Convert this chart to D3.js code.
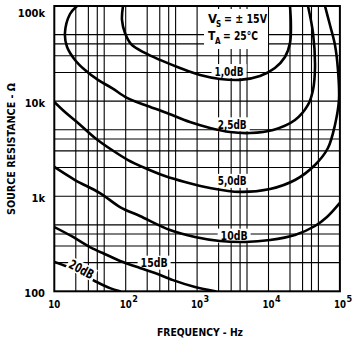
<!DOCTYPE html>
<html><head><meta charset="utf-8">
<script src="https://cdn.jsdelivr.net/npm/d3@7"></script>
<style>
html,body{margin:0;padding:0;background:#fff;}
svg{display:block;}
text{font-family:"Liberation Sans Narrow","DejaVu Sans Condensed","Arial Narrow",sans-serif;font-weight:bold;fill:#000;}
</style></head><body>
<svg id="c" width="354" height="341"></svg>
<script>
// ---- data ----
const xDomain = [10, 1e5];
const yDomain = [100, 1e5];
const xTickValues = [10, 100, 1000, 10000, 100000];
const xTickExp = ["", "2", "3", "4", "5"];
const yTickValues = [100, 1000, 10000, 100000];
const yTickLabels = ["100", "1k", "10k", "100k"];
const gridMultipliers = [2, 3, 4, 5];

const freq_1dB = [91.6, 88.7, 97.7, 119, 186, 302, 575, 1100, 2090, 3990, 7600, 12300, 17000, 20000, 20600, 20000];
const res_1dB  = [100000, 71300, 52000, 39800, 32100, 27100, 22300, 18800, 17100, 16700, 18400, 22300, 29100, 40800, 63100, 100000];

const freq_2p5dB = [20.8, 16.6, 14.1, 15.1, 19.5, 26.9, 40.9, 64.3, 104, 186, 378, 794, 1520, 2890, 5510, 11600, 23500, 35700, 42000, 44800, 42000, 35700];
const res_2p5dB  = [100000, 82400, 52000, 37100, 27100, 21200, 16700, 13700, 10800, 9110, 7500, 6030, 5220, 4730, 4620, 4970, 6320, 9110, 13100, 22900, 52000, 100000];

const freq_5dB = [10, 14.1, 21.5, 37.2, 64.3, 108, 186, 355, 676, 1520, 3990, 10500, 23500, 44800, 68000, 85300, 97000, 94000, 85300, 72600, 61800];
const res_5dB  = [9800, 7680, 5890, 4100, 3060, 2400, 1980, 1630, 1410, 1220, 1110, 1190, 1480, 2130, 3210, 5610, 10300, 21200, 38900, 63100, 100000];

const freq_10dB = [10, 19.5, 43.6, 83.2, 158, 417, 935, 2090, 4690, 10500, 23500, 44800, 65900, 100000];
const res_10dB  = [2030, 1480, 1080, 769, 619, 441, 373, 338, 330, 346, 391, 486, 604, 850];

const freq_15dB = [10, 18.3, 31.6, 54.7, 91.6, 158, 257, 459, 935, 1800];
const res_15dB  = [474, 373, 292, 241, 203, 176, 156, 131, 111, 100];

const freq_20dB = [10, 16.6, 39.6, 60.3, 83];
const res_20dB  = [203, 176, 125, 108, 100];

const labelNames = ["1,0dB", "2,5dB", "5,0dB", "10dB", "15dB"];
const labelFreq  = [2800, 3100, 3100, 3300, 250];
const labelRes   = [20700, 5700, 1450, 385, 200];
const labelWidth = [29, 29, 29, 27, 27];

// ---- chart ----
const svg = d3.select("#c");
const L = 54.3, R = 339.9, T = 6, B = 291.3;
const x = d3.scaleLog().domain(xDomain).range([L, R]);
const y = d3.scaleLog().domain(yDomain).range([B, T]);

// grid
const g = svg.append("g");
const xGrid = [];
for (let d = 10; d < 1e5; d *= 10) gridMultipliers.forEach(m => xGrid.push(d * m));
const yGrid = [];
for (let d = 100; d < 1e5; d *= 10) gridMultipliers.forEach(m => yGrid.push(d * m));
xTickValues.slice(1, -1).forEach(v => xGrid.push(v));
yTickValues.slice(1, -1).forEach(v => yGrid.push(v));
g.selectAll("line.vx").data(xGrid).join("line")
  .attr("x1", d => x(d)).attr("x2", d => x(d)).attr("y1", T).attr("y2", B)
  .attr("stroke", "#000").attr("stroke-width", 1.1);
g.selectAll("line.hy").data(yGrid).join("line")
  .attr("y1", d => y(d)).attr("y2", d => y(d)).attr("x1", L).attr("x2", R)
  .attr("stroke", "#000").attr("stroke-width", 1.1);

// legend background
svg.append("rect").attr("x", 204).attr("y", 9).attr("width", 64).attr("height", 40).attr("fill", "#fff");

// label backgrounds
const labG = svg.append("g");
const labels = labelNames.map((n, i) => ({n, w: labelWidth[i], cx: x(labelFreq[i]), cy: y(labelRes[i])}));
labels.forEach(l => {
  labG.append("rect").attr("x", l.cx - l.w / 2 - 3).attr("y", l.cy - 7).attr("width", l.w + 6).attr("height", 14).attr("fill", "#fff");
});

// curves
const series = [
  [freq_1dB, res_1dB], [freq_2p5dB, res_2p5dB], [freq_5dB, res_5dB],
  [freq_10dB, res_10dB], [freq_15dB, res_15dB], [freq_20dB, res_20dB]
];
const line = d3.line().x(d => x(d[0])).y(d => y(d[1])).curve(d3.curveCatmullRom.alpha(0.5));
svg.append("defs").append("clipPath").attr("id", "clip")
  .append("rect").attr("x", L).attr("y", T).attr("width", R - L).attr("height", B - T);
svg.append("g").attr("clip-path", "url(#clip)").selectAll("path").data(series).join("path")
  .attr("d", s => line(s[0].map((f, i) => [f, s[1][i]])))
  .attr("fill", "none").attr("stroke", "#000").attr("stroke-width", 2.6).attr("stroke-linecap", "round");

// frame
svg.append("rect").attr("x", L).attr("y", T).attr("width", R - L).attr("height", B - T)
  .attr("fill", "none").attr("stroke", "#000").attr("stroke-width", 2);

function fit(sel, len) {
  return sel.attr("textLength", len).attr("lengthAdjust", "spacingAndGlyphs");
}

// curve labels
labels.forEach(l => {
  fit(svg.append("text").attr("x", l.cx - l.w / 2).attr("y", l.cy + 4.5)
    .attr("font-size", 13).text(l.n), l.w);
});
// 20dB label rotated along curve
const p20 = [x(24), y(170)];
const g20 = svg.append("g").attr("transform", `translate(${p20[0]},${p20[1]}) rotate(28)`);
g20.append("rect").attr("x", -15).attr("y", -7).attr("width", 30).attr("height", 13).attr("fill", "#fff");
fit(g20.append("text").attr("x", -13).attr("y", 4.5).attr("font-size", 13).text("20dB"), 26);

// legend text (separate pieces so subscripts stay clear of the next line)
const lg = svg.append("g");
lg.append("text").attr("x", 208).attr("y", 23).attr("font-size", 13).text("V");
lg.append("text").attr("x", 216).attr("y", 26.5).attr("font-size", 8).text("S");
fit(lg.append("text").attr("x", 224).attr("y", 23).attr("font-size", 13).text("= ± 15V"), 43);
lg.append("text").attr("x", 208).attr("y", 40).attr("font-size", 12).text("T");
lg.append("text").attr("x", 215).attr("y", 43.5).attr("font-size", 8).text("A");
fit(lg.append("text").attr("x", 223).attr("y", 40).attr("font-size", 12).text("= 25°C"), 35);

// x tick labels
xTickValues.forEach((v, i) => {
  fit(svg.append("text").attr("x", x(v) - 6).attr("y", 308).attr("font-size", 11).text("10"), 12);
  if (xTickExp[i]) {
    svg.append("text").attr("x", x(v) + 6.5).attr("y", 302).attr("font-size", 9).text(xTickExp[i]);
  }
});
// y tick labels
yTickValues.forEach((v, i) => {
  const cy = Math.max(y(v) + 1.5, 13);
  svg.append("text").attr("x", 45).attr("y", cy + 4).attr("font-size", 11).attr("text-anchor", "end").text(yTickLabels[i]);
});

// axis titles
fit(svg.append("text").attr("x", 157).attr("y", 336).attr("font-size", 11).text("FREQUENCY - Hz"), 86);
fit(svg.append("text").attr("transform", "translate(15,215) rotate(-90)").attr("font-size", 11).text("SOURCE RESISTANCE - Ω"), 132);
</script>
</body></html>
